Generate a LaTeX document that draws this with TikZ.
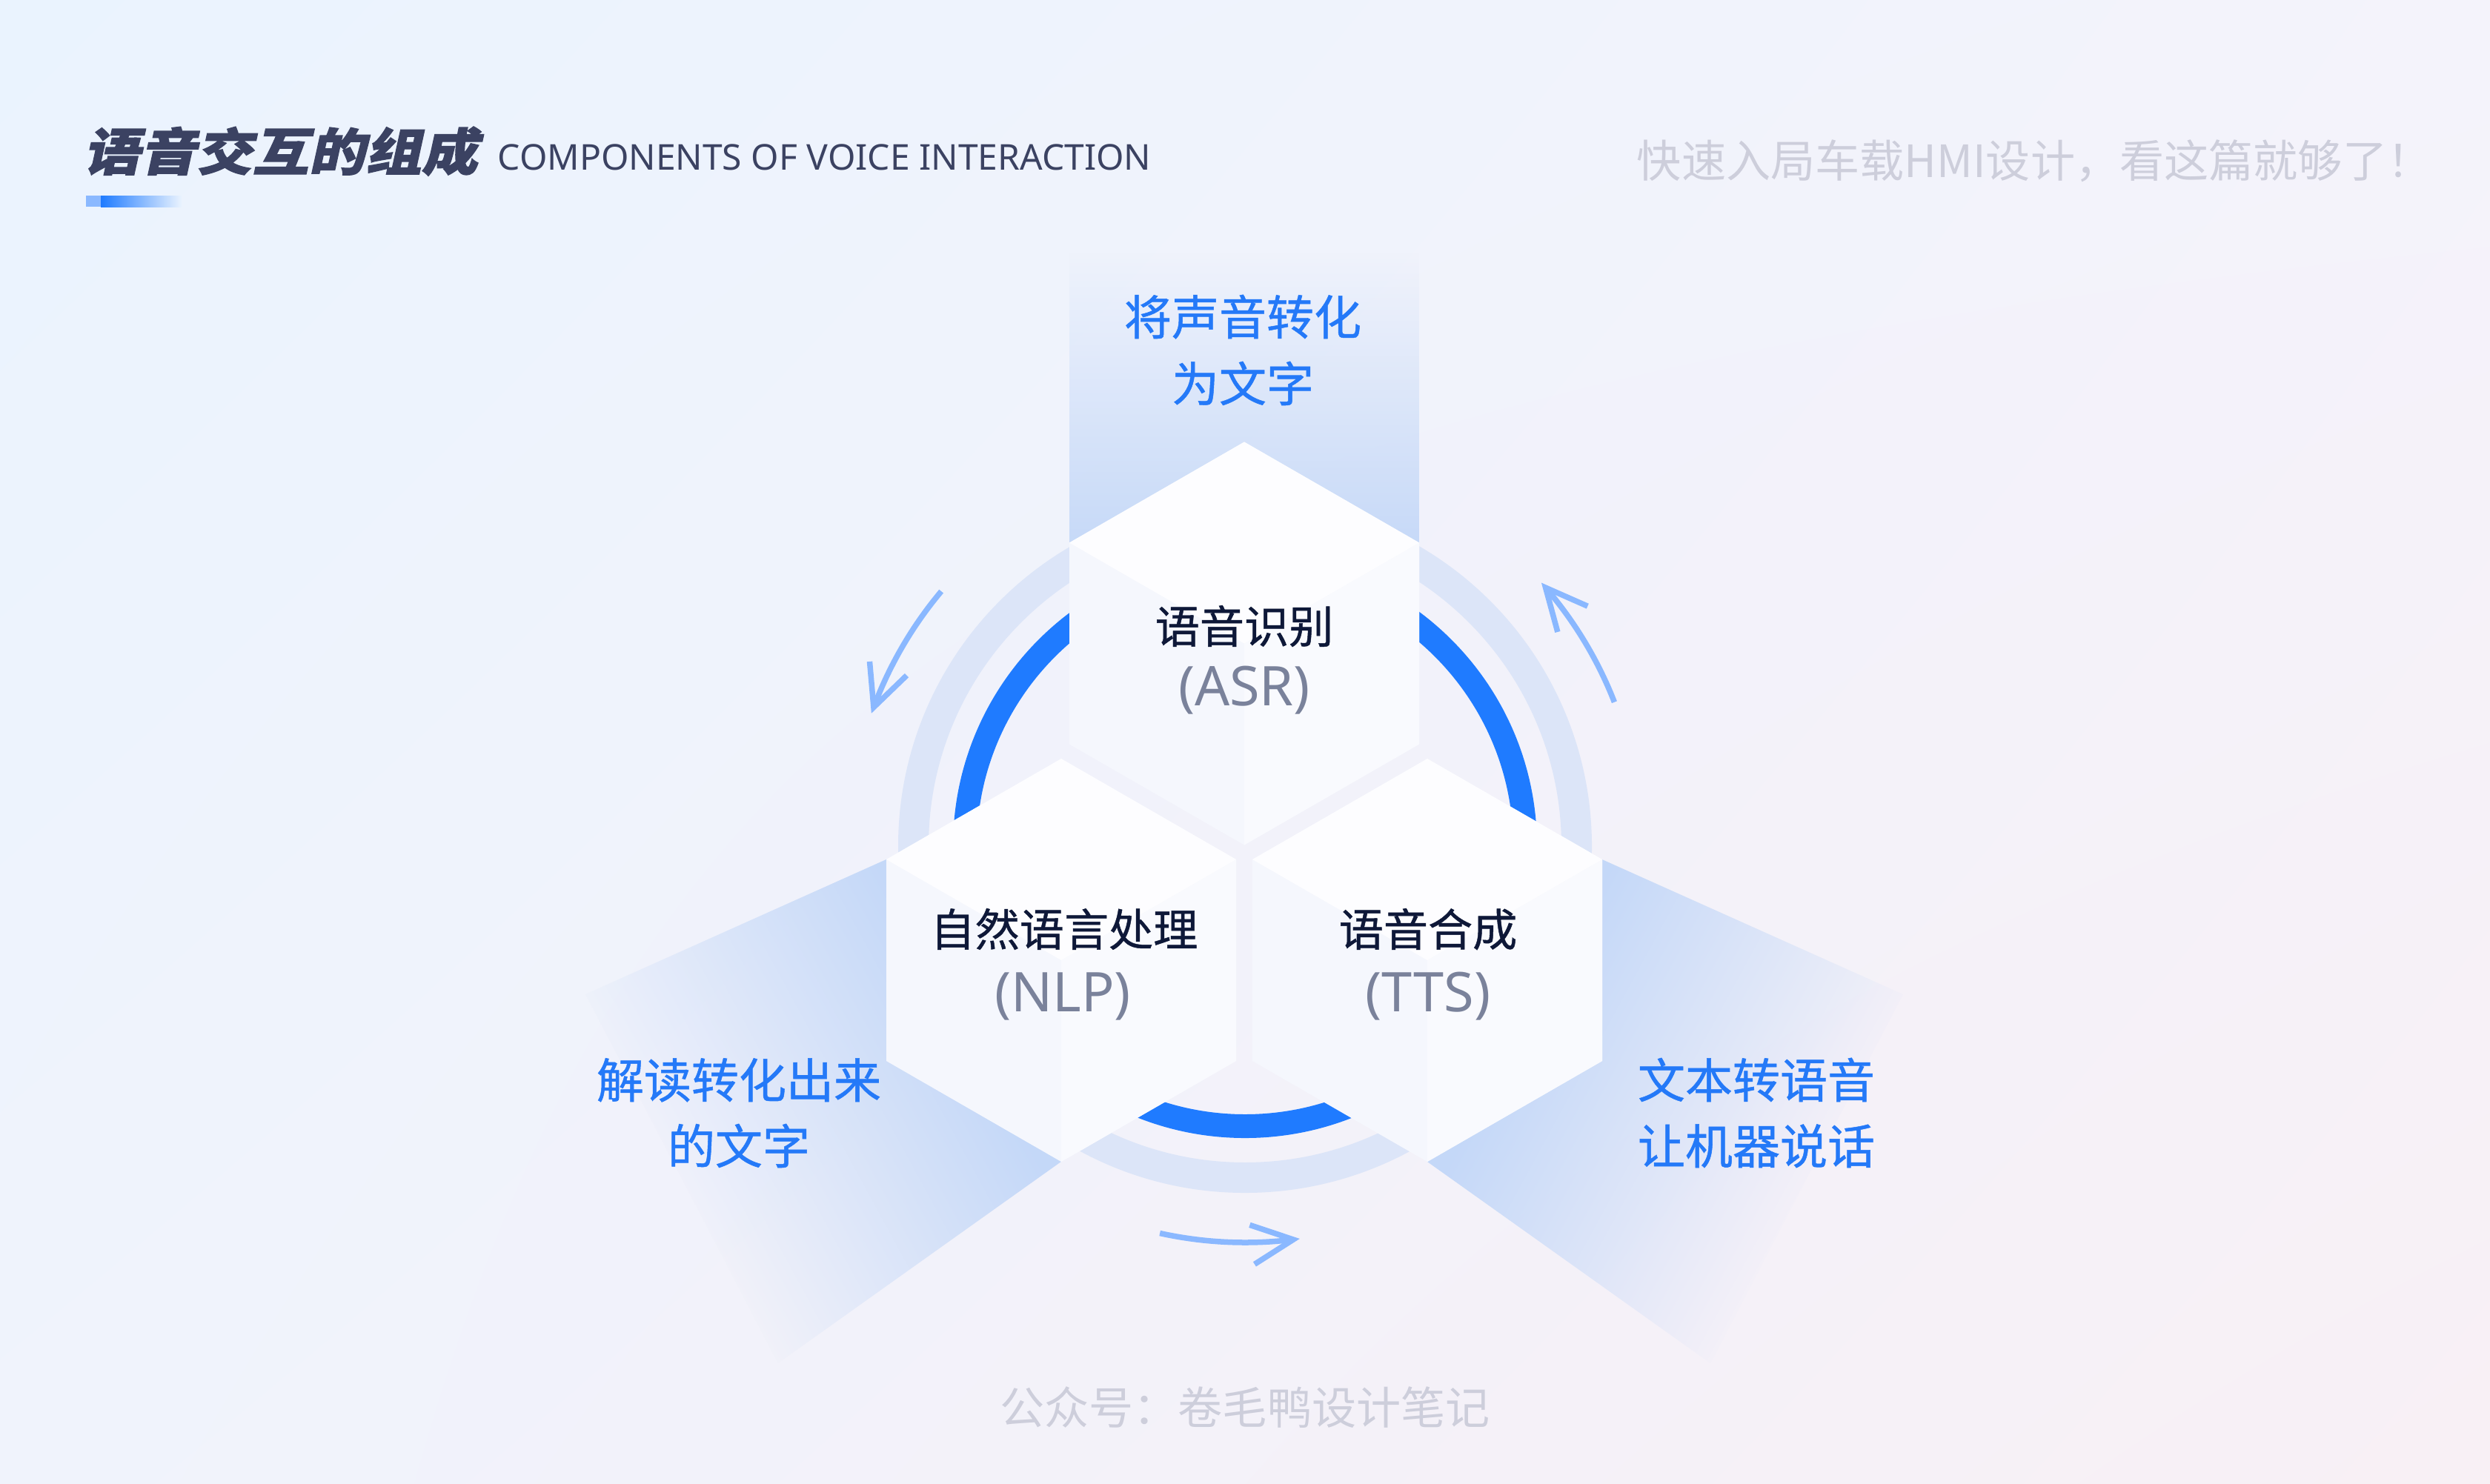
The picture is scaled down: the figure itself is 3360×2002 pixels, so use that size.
\documentclass[tikz,border=0pt]{standalone}
\usepackage{fontspec}
\usetikzlibrary{calc,shadings,fadings}
\newfontfamily\cjk{Noto Sans CJK SC}
\newfontfamily\cjkM{Noto Sans CJK SC}[FakeBold=0.8]
\newfontfamily\cjkT{Noto Sans CJK SC}[FakeSlant=0.22,FakeStretch=1.12,FakeBold=1.8]
\newfontfamily\latf{Noto Sans}
\definecolor{bgTL}{HTML}{EAF3FE}
\definecolor{bgTR}{HTML}{F4F3FB}
\definecolor{bgBL}{HTML}{F0F3FC}
\definecolor{bgBR}{HTML}{F8F0F5}
\definecolor{beam}{HTML}{C4D8F8}
\definecolor{ringpale}{HTML}{DCE5F8}
\definecolor{ringblue}{HTML}{1F7BFF}
\definecolor{arrowc}{HTML}{8AB8FF}
\definecolor{navy}{HTML}{3B4262}
\definecolor{ink}{HTML}{0E1838}
\definecolor{slate}{HTML}{7A829B}
\definecolor{labelblue}{HTML}{2479F8}
\definecolor{mute}{HTML}{CDCEDB}
\definecolor{facetop}{HTML}{FDFDFF}
\definecolor{faceleft}{HTML}{F5F7FD}
\definecolor{faceright}{HTML}{F9FAFE}
\tikzfading[name=beamfade, top color=transparent!0, bottom color=transparent!100]
\newcommand\hexcube[1]{%
  \fill[faceleft] ($(#1)+(0,-272)$) -- ($(#1)+(236,-136)$) -- ($(#1)+(236,136)$) -- ($(#1)+(0,272)$) -- ($(#1)+(-236,136)$) -- ($(#1)+(-236,-136)$) -- cycle;
  \fill[faceright] ($(#1)+(236,-136)$) -- (#1) -- ($(#1)+(0,272)$) -- ($(#1)+(236,136)$) -- cycle;
  \fill[facetop] ($(#1)+(0,-272)$) -- ($(#1)+(236,-136)$) -- (#1) -- ($(#1)+(-236,-136)$) -- cycle;
}
\begin{document}
\begin{tikzpicture}[x=0.01cm,y=-0.01cm,
  hexcn/.style={inner sep=0, text=ink, font=\cjkM\fontsize{17.1pt}{20pt}\selectfont},
  hexlat/.style={inner sep=0, text=slate, font=\latf\fontsize{21pt}{24pt}\selectfont},
  bluelbl/.style={inner sep=0, text=labelblue, font=\cjkM\fontsize{18.2pt}{22pt}\selectfont},
  mutetxt/.style={inner sep=0, text=mute, font=\cjk\fontsize{17.1pt}{20pt}\selectfont},
  arrowline/.style={draw=arrowc, line width=0.075cm}]
\useasboundingbox (0,0) rectangle (3360,2002);
\shade[upper left=bgTL, upper right=bgTR, lower left=bgBL, lower right=bgBR] (0,0) rectangle (3360,2002);

% beams
\fill[beam, path fading=beamfade, fading transform={rotate=180}] (1443,340) rectangle (1915,760);
\fill[beam, path fading=beamfade, fading transform={rotate=-60, yscale=0.7}] (1196,1160) -- (790,1342) -- (1050,1840) -- (1432,1568) -- cycle;
\fill[beam, path fading=beamfade, fading transform={rotate=60, yscale=0.7}] (2162,1160) -- (2568,1342) -- (2308,1840) -- (1926,1568) -- cycle;

% rings
\coordinate (O) at (1680,1142);
\draw[ringpale, line width=0.41cm] (O) circle[radius=447.5];
\draw[ringblue, line width=0.32cm] (O) circle[radius=378];

% arrows
\foreach \a/\b in {140/159.5,21.3/40.7,257.6/277}{
  \coordinate (tip) at ($(O)+(-\b:535)$);
  \draw[arrowline] ($(O)+(-\a:535)$) arc[start angle=-\a, end angle=-\b, radius=535];
  \draw[arrowline, line join=miter] ($(tip)+({90-\b+25.5}:62)$) -- (tip) -- ($(tip)+({90-\b-25.5}:62)$);
}

% hexagons
\coordinate (hasr) at (1679,868.5);
\coordinate (hnlp) at (1432,1296);
\coordinate (htts) at (1926,1296);
\hexcube{hasr}
\hexcube{hnlp}
\hexcube{htts}

\node[hexcn, anchor=base] (tasr) at (1679,868) {语音识别};
\node[hexlat, anchor=base] (lasr) at (1679,952) {(ASR)};
\node[hexcn, anchor=base] (tnlp) at (1436,1277) {自然语言处理};
\node[hexlat, anchor=base] (lnlp) at (1434,1365) {(NLP)};
\node[hexcn, anchor=base] (ttts) at (1927,1277) {语音合成};
\node[hexlat, anchor=base] (ltts) at (1927,1365) {(TTS)};

% blue labels
\node[bluelbl, anchor=base] (b1a) at (1677,452) {将声音转化};
\node[bluelbl, anchor=base] (b1b) at (1677,542) {为文字};
\node[bluelbl, anchor=base] (b2a) at (997,1482) {解读转化出来};
\node[bluelbl, anchor=base] (b2b) at (997,1571) {的文字};
\node[bluelbl, anchor=base] (b3a) at (2370,1482) {文本转语音};
\node[bluelbl, anchor=base] (b3b) at (2370,1571) {让机器说话};

% title
\node[inner sep=0, anchor=base west, text=navy, font=\cjkT\bfseries\fontsize{19.3pt}{22pt}\selectfont] (title) at (112,230) {语音交互的组成};
\node[inner sep=0, anchor=base west, text=navy, font=\latf\fontsize{13.65pt}{16pt}\selectfont] (subtitle) at (671,229) {COMPONENTS OF VOICE INTERACTION};
\fill[arrowc] (116,264) rectangle (136,279);
\shade[left color=ringblue, right color=bgTL] (136,264) rectangle (245,279);

\node[mutetxt, anchor=base east] (slogan) at (3282,239) {快速入局车载HMI设计，看这篇就够了！};
\node[mutetxt, anchor=base] (footer) at (1680,1922) {公众号：卷毛鸭设计笔记};
\end{tikzpicture}
\end{document}
